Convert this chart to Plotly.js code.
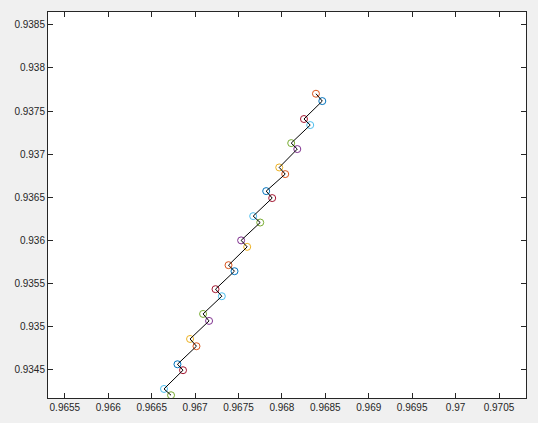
<!DOCTYPE html>
<html>
<head>
<meta charset="utf-8">
<script src="https://cdn.plot.ly/plotly-3.0.1.min.js"></script>
<style>html,body{margin:0;padding:0;background:#f0f0f0;}#chart{width:538px;height:423px;}</style>
</head>
<body>
<div id="chart"></div>
<script>
// Path points, bottom to top
var xVals = [0.966723, 0.966642, 0.966861, 0.966797, 0.967016, 0.966942, 0.967161, 0.967092,
             0.967308, 0.967235, 0.967454, 0.967385, 0.967600, 0.967530, 0.967750, 0.967669,
             0.967888, 0.967819, 0.968038, 0.967969, 0.968177, 0.968107, 0.968326, 0.968254,
             0.968465, 0.968392];
var yVals = [0.934207, 0.934280, 0.934497, 0.934566, 0.934775, 0.934859, 0.935068, 0.935149,
             0.935354, 0.935436, 0.935644, 0.935714, 0.935926, 0.936001, 0.936208, 0.936282,
             0.936491, 0.936572, 0.936769, 0.936846, 0.937059, 0.937128, 0.937337, 0.937407,
             0.937615, 0.937700];
var colorOrder = ['#0072BD', '#D95319', '#EDB120', '#7E2F8E', '#77AC30', '#4DBEEE', '#A2142F'];
var colorStart = 4; // first point is green
var xTicks = [0.9655, 0.966, 0.9665, 0.967, 0.9675, 0.968, 0.9685, 0.969, 0.9695, 0.97, 0.9705];
var xTickText = ['0.9655', '0.966', '0.9665', '0.967', '0.9675', '0.968', '0.9685', '0.969', '0.9695', '0.97', '0.9705'];
var yTicks = [0.9345, 0.935, 0.9355, 0.936, 0.9365, 0.937, 0.9375, 0.938, 0.9385];
var yTickText = ['0.9345', '0.935', '0.9355', '0.936', '0.9365', '0.937', '0.9375', '0.938', '0.9385'];

var markerColors = xVals.map(function (_, i) { return colorOrder[(colorStart + i) % colorOrder.length]; });

var traces = [
  {x: xVals, y: yVals, mode: 'markers', type: 'scatter', hoverinfo: 'none',
   marker: {symbol: 'circle-open', size: 7, color: markerColors, line: {width: 1, color: markerColors}}},
  {x: xVals, y: yVals, mode: 'lines', type: 'scatter', hoverinfo: 'none',
   line: {color: '#000000', width: 1}}
];

var axisCommon = {
  showgrid: false, zeroline: false, showline: true, linecolor: '#262626', linewidth: 1,
  mirror: 'ticks', ticks: 'inside', ticklen: 5, tickwidth: 1, tickcolor: '#262626',
  tickfont: {family: 'Liberation Sans, Arial, sans-serif', size: 10, color: '#262626'},
  tickmode: 'array'
};

var layout = {
  width: 538, height: 423,
  margin: {l: 48, r: 12, t: 12, b: 25, pad: 0},
  paper_bgcolor: '#f0f0f0', plot_bgcolor: '#ffffff',
  showlegend: false,
  xaxis: Object.assign({}, axisCommon, {range: [0.965306, 0.970811], tickvals: xTicks, ticktext: xTickText}),
  yaxis: Object.assign({}, axisCommon, {range: [0.934175, 0.938647], tickvals: yTicks, ticktext: yTickText})
};

Plotly.newPlot('chart', traces, layout, {staticPlot: true, displayModeBar: false});
</script>
</body>
</html>
